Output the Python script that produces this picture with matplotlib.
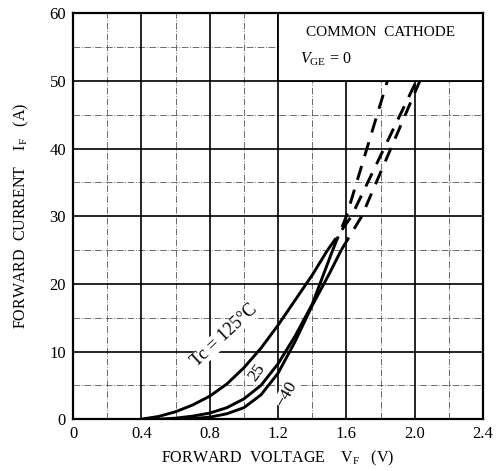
import matplotlib
matplotlib.use("Agg")
import matplotlib.pyplot as plt
from matplotlib.patches import Rectangle

plt.rcParams['font.family'] = ['Liberation Serif', 'DejaVu Serif']
plt.rcParams['mathtext.fontset'] = 'custom'
plt.rcParams['mathtext.rm'] = 'Liberation Serif'
plt.rcParams['mathtext.it'] = 'Liberation Serif:italic'

# ---- data ----
v_125 = [0.40, 0.50, 0.60, 0.70, 0.80, 0.90, 1.00, 1.10, 1.20, 1.30, 1.40, 1.49]
i_125 = [0.0, 0.4, 1.1, 2.1, 3.4, 5.2, 7.6, 10.5, 13.9, 17.6, 21.3, 25.0]
v_125_ext = [1.49, 1.63, 2.01]
i_125_ext = [25.0, 30.0, 50.0]

v_25 = [0.50, 0.60, 0.70, 0.80, 0.90, 1.00, 1.10, 1.20, 1.30, 1.40, 1.52]
i_25 = [0.0, 0.15, 0.45, 0.9, 1.7, 3.0, 5.0, 8.2, 12.3, 17.0, 25.0]
v_25_ext = [1.52, 1.60, 1.84]
i_25_ext = [25.0, 30.0, 50.0]

v_m40 = [0.60, 0.70, 0.80, 0.90, 1.00, 1.10, 1.20, 1.30, 1.40, 1.50, 1.57]
i_m40 = [0.0, 0.1, 0.3, 0.8, 1.7, 3.6, 6.8, 11.5, 16.8, 21.5, 25.0]
v_m40_ext = [1.57, 1.69, 2.03]
i_m40_ext = [25.0, 30.0, 50.0]

x_ticks = [0, 0.4, 0.8, 1.2, 1.6, 2.0, 2.4]
x_tick_labels = ["0", "0.4", "0.8", "1.2", "1.6", "2.0", "2.4"]
y_ticks = [0, 10, 20, 30, 40, 50, 60]
y_tick_labels = ["0", "10", "20", "30", "40", "50", "60"]
x_minor = [0.2, 0.6, 1.0, 1.4, 1.8, 2.2]
y_minor = [5, 15, 25, 35, 45, 55]

fig = plt.figure(figsize=(4.97, 4.71), dpi=100)
ax = fig.add_axes([0.147, 0.110, 0.825, 0.862])
ax.set_xlim(0, 2.4)
ax.set_ylim(0, 60)

# grid
for x in x_minor:
    ax.axvline(x, color='#555555', lw=0.6, ls=(0, (8, 2, 1, 2)), zorder=1)
for y in y_minor:
    ax.axhline(y, color='#555555', lw=0.6, ls=(0, (8, 2, 1, 2)), zorder=1)
for x in x_ticks[1:-1]:
    ax.axvline(x, color='black', lw=1.2, zorder=1)
for y in y_ticks[1:-1]:
    ax.axhline(y, color='black', lw=1.2, zorder=1)

# legend box
ax.add_patch(Rectangle((1.2, 50), 1.2, 10, facecolor='white', edgecolor='black',
                       lw=1.3, zorder=3))
ax.text(1.80, 57.2, "COMMON  CATHODE", ha='center', va='center', fontsize=11, zorder=4)
ax.text(1.33, 53.2, r"$V_{\rm GE}$ = $0$", ha='left', va='center', fontsize=11.5, zorder=4)

# curves
lw = 2.1
for v, i, ve, ie in [(v_125, i_125, v_125_ext, i_125_ext),
                     (v_25, i_25, v_25_ext, i_25_ext),
                     (v_m40, i_m40, v_m40_ext, i_m40_ext)]:
    ax.plot(v, i, color='black', lw=lw, zorder=5, solid_capstyle='butt')
    ax.plot(ve, ie, color='black', lw=lw, ls=(0, (5, 3.5)), zorder=5)

# curve labels
bb = dict(facecolor='white', edgecolor='none', pad=0.2)
ax.text(0.885, 12.4, "Tc = 125°C", rotation=43, ha='center', va='center', fontsize=13,
        zorder=4, bbox=bb)
ax.text(1.075, 6.9, "25", rotation=55, ha='center', va='center', fontsize=12.5, zorder=4,
        bbox=bb)
ax.text(1.25, 3.7, "\u221240", rotation=60, ha='center', va='center', fontsize=12.5, zorder=4,
        bbox=bb)

ax.set_xticks(x_ticks)
ax.set_xticklabels(x_tick_labels)
ax.set_yticks(y_ticks)
ax.set_yticklabels(y_tick_labels)
ax.tick_params(length=0, labelsize=12, pad=5)
for s in ax.spines.values():
    s.set_linewidth(1.6)
    s.set_zorder(7)

ax.set_xlabel(r"FORWARD  VOLTAGE    V$_{\rm F}$   (V)", fontsize=11.5, labelpad=5)
ax.set_ylabel(r"FORWARD  CURRENT    I$_{\rm F}$   (A)", fontsize=11.5, labelpad=13)

fig.savefig("out.png", dpi=100)
